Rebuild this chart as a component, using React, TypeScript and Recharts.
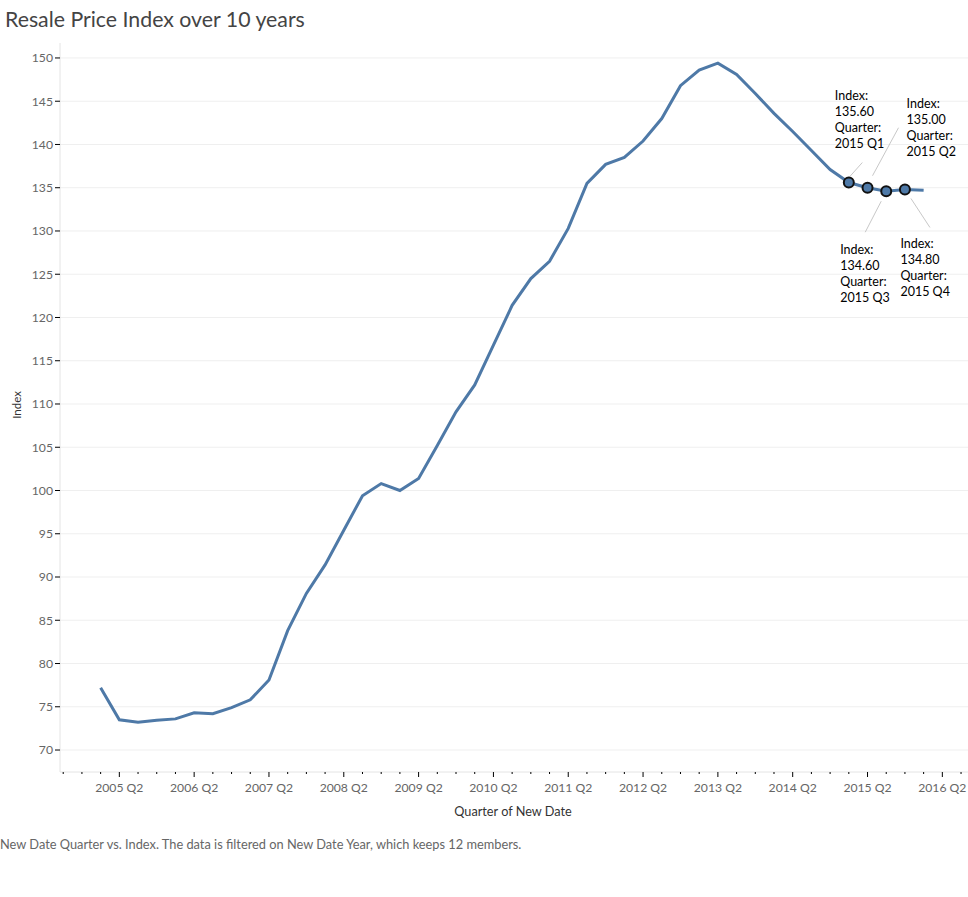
import { LineChart, Line, XAxis, YAxis, ReferenceLine } from "recharts"

const quarters: string[] = [
	'2005 Q1', '2005 Q2', '2005 Q3', '2005 Q4',
	'2006 Q1', '2006 Q2', '2006 Q3', '2006 Q4',
	'2007 Q1', '2007 Q2', '2007 Q3', '2007 Q4',
	'2008 Q1', '2008 Q2', '2008 Q3', '2008 Q4',
	'2009 Q1', '2009 Q2', '2009 Q3', '2009 Q4',
	'2010 Q1', '2010 Q2', '2010 Q3', '2010 Q4',
	'2011 Q1', '2011 Q2', '2011 Q3', '2011 Q4',
	'2012 Q1', '2012 Q2', '2012 Q3', '2012 Q4',
	'2013 Q1', '2013 Q2', '2013 Q3', '2013 Q4',
	'2014 Q1', '2014 Q2', '2014 Q3', '2014 Q4',
	'2015 Q1', '2015 Q2', '2015 Q3', '2015 Q4',
	'2016 Q1',
]

const indexValues: number[] = [
	77.2, 73.5, 73.2, 73.45, 73.6, 74.3, 74.2, 74.9, 75.8, 78.1,
	83.8, 88.1, 91.4, 95.4, 99.4, 100.8, 100.0, 101.4, 105.2, 109.1,
	112.2, 116.8, 121.4, 124.5, 126.5, 130.3, 135.5, 137.7, 138.5, 140.4,
	143.0, 146.8, 148.6, 149.4, 148.1, 145.9, 143.6, 141.5, 139.3, 137.1,
	135.6, 135.0, 134.6, 134.8, 134.7,
]

const axisYears: number[] = [2004, 2005, 2006, 2007, 2008, 2009, 2010, 2011, 2012, 2013, 2014, 2015, 2016]
const yTicks: number[] = [70, 75, 80, 85, 90, 95, 100, 105, 110, 115, 120, 125, 130, 135, 140, 145, 150]
const highlighted: string[] = ['2015 Q1', '2015 Q2', '2015 Q3', '2015 Q4']

// label placement relative to the marked point (pixels)
const notePos: Record<string, { tx: number; ty: number; l1: [number, number]; l2: [number, number] }> = {
	'2015 Q1': { tx: -14, ty: -87, l1: [13.5, -20], l2: [1, -6] },
	'2015 Q2': { tx: 39, ty: -84, l1: [31, -60], l2: [5, -12] },
	'2015 Q3': { tx: -46, ty: 58, l1: [-5, 10], l2: [-21, 41] },
	'2015 Q4': { tx: -4.5, ty: 54.5, l1: [6, 9], l2: [25, 38] },
}

const toNum = (q: string) => {
	const [y, qq] = q.split(' Q')
	return Number(y) + (Number(qq) - 1) / 4
}

const data = quarters.map((q, i) => ({ quarter: q, t: toNum(q), index: indexValues[i] }))

const xTicks: number[] = []
axisYears.forEach((y) => [0, 1, 2, 3].forEach((k) => xTicks.push(y + k / 4)))
const xTickList = xTicks.filter((t) => t >= 2004.45 && t <= 2016.59)

const FONT = 'Lato, "Open Sans", sans-serif'
const BLUE = '#4e79a7'

const XTick = (props: any) => {
	const { x, y, payload } = props
	const v: number = payload.value
	const q = Math.round((v - Math.floor(v)) * 4) + 1
	const yr = Math.floor(v + 1e-6)
	if (q === 2) {
		return (
			<g>
				<line x1={x} x2={x} y1={y} y2={y + 5} stroke="#000" strokeWidth={1} />
				<text x={x} y={y + 19.5} textAnchor="middle" fontSize={12.2} fill="#666" fontFamily={FONT}>
					{`${yr} Q2`}
				</text>
			</g>
		)
	}
	return <line x1={x} x2={x} y1={y} y2={y + 2} stroke="#000" strokeWidth={1} />
}

const renderDot = (props: any) => {
	const { cx, cy, payload, index } = props
	if (!highlighted.includes(payload.quarter)) return <g key={`d-${index}`} />
	const p = notePos[payload.quarter]
	const lines = ['Index:', payload.index.toFixed(2), 'Quarter:', payload.quarter]
	return (
		<g key={`d-${index}`}>
			<line x1={cx + p.l1[0]} y1={cy + p.l1[1]} x2={cx + p.l2[0]} y2={cy + p.l2[1]} stroke="#c8c8c8" strokeWidth={1} />
			<circle cx={cx} cy={cy} r={5} fill={BLUE} stroke="#111" strokeWidth={2} />
			{lines.map((s, k) => (
				<text key={k} x={cx + p.tx} y={cy + p.ty + k * 16} dominantBaseline="central" fontSize={12.5} fill="#000" fontFamily={FONT}>
					{s}
				</text>
			))}
		</g>
	)
}

export default function App() {
	return (
		<div style={{ position: 'absolute', left: 0, top: 0, width: 968, height: 897, background: '#fff', fontFamily: FONT }}>
			<div style={{ position: 'absolute', left: 5, top: 6, fontSize: 21.3, color: '#444', whiteSpace: 'nowrap' }}>
				Resale Price Index over 10 years
			</div>
			<LineChart width={968} height={897} data={data} margin={{ top: 43, right: 0, bottom: 0, left: 0 }}>
				{yTicks.map((t) => (
					<ReferenceLine key={t} y={t} stroke="#efefef" strokeWidth={1} />
				))}
				<XAxis
					dataKey="t"
					type="number"
					domain={[2004.457, 2016.593]}
					allowDataOverflow
					ticks={xTickList}
					interval={0}
					height={125}
					tickSize={0}
					tickMargin={0}
					tickLine={false}
					axisLine={{ stroke: '#e4e4e4' }}
					tick={<XTick />}
				/>
				<YAxis
					type="number"
					domain={[67.46, 151.73]}
					allowDataOverflow
					ticks={yTicks}
					interval={0}
					width={60}
					tickSize={5}
					tickMargin={2}
					tickLine={{ stroke: '#000' }}
					axisLine={{ stroke: '#e4e4e4' }}
					tick={{ fontSize: 12.2, fill: '#666', fontFamily: FONT }}
				/>
				<Line
					type="linear"
					dataKey="index"
					stroke={BLUE}
					strokeWidth={3}
					dot={renderDot}
					activeDot={false}
					isAnimationActive={false}
				/>
			</LineChart>
			<div style={{ position: 'absolute', left: 16, top: 405, transform: 'translate(-50%, -50%) rotate(-90deg)', fontSize: 11.5, color: '#333', whiteSpace: 'nowrap' }}>
				Index
			</div>
			<div style={{ position: 'absolute', left: 513, top: 811, transform: 'translate(-50%, -50%)', fontSize: 12.7, color: '#333', whiteSpace: 'nowrap' }}>
				Quarter of New Date
			</div>
			<div style={{ position: 'absolute', left: 0, top: 844, transform: 'translateY(-50%)', fontSize: 12.8, color: '#666', whiteSpace: 'nowrap' }}>
				New Date Quarter vs. Index. The data is filtered on New Date Year, which keeps 12 members.
			</div>
		</div>
	)
}
